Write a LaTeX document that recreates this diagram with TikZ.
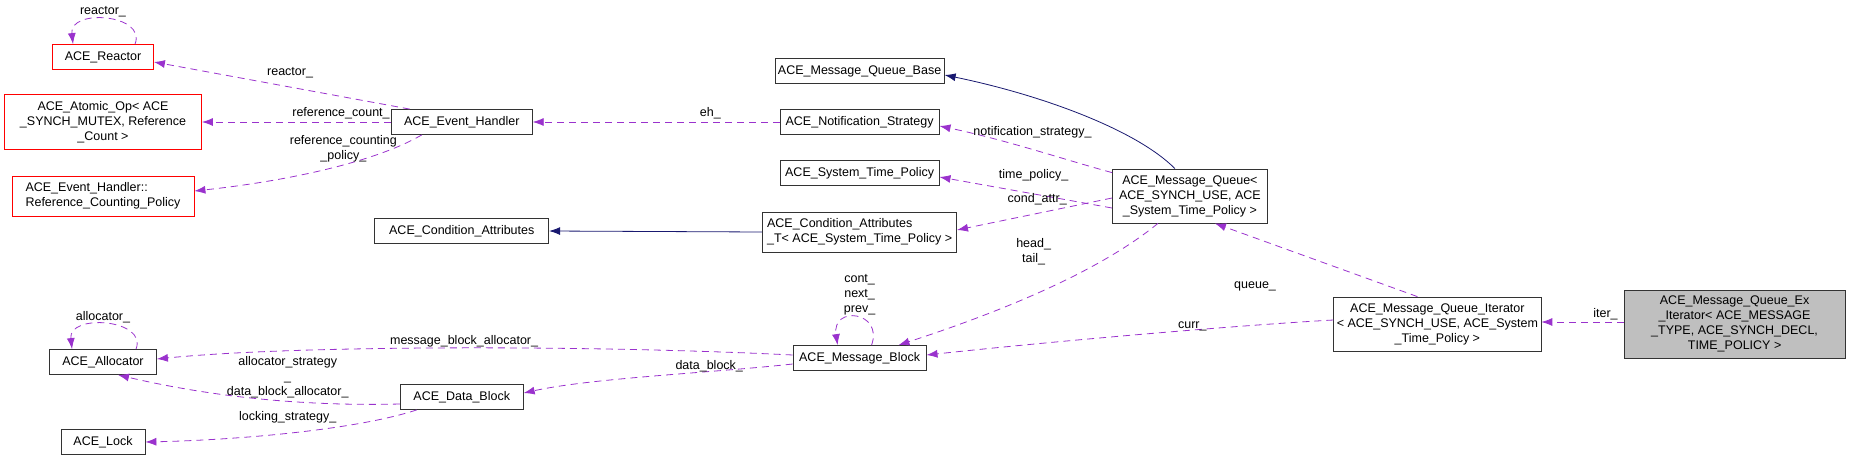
\documentclass[tikz,border=0pt]{standalone}
\usepackage{fontspec}
\setmainfont{Liberation Sans}
\usetikzlibrary{arrows.meta, positioning}

\definecolor{usecol}{HTML}{9A32CD}
\definecolor{inhcol}{HTML}{191970}

\begin{document}
\begin{tikzpicture}[
        x=1.184pt, y=-1pt,
        font=\fontsize{12.5}{15}\selectfont,
        cls/.style={draw=black!80, thick, rectangle, minimum height=25pt, inner sep=3pt, align=center},
        red/.style={cls, draw=red},
        main/.style={cls, fill=black!25},
        member/.style={-{Latex[length=11pt,width=8pt]}, draw=usecol, thick, dash pattern=on 7pt off 5pt},
        inherit/.style={-{Latex[length=11pt,width=8pt]}, draw=inhcol, thick},
        lbl/.style={inner sep=1pt, align=center}
    ]
        \useasboundingbox (0,0) rectangle (1568.4,461);

        % Classes, left column
        \node[red, minimum width=101pt] (reactor) at (87,57) {ACE\_Reactor};
        \node[red, minimum width=197pt, minimum height=55pt] (atomic) at (87,122) {ACE\_Atomic\_Op< ACE\\\_SYNCH\_MUTEX, Reference\\\_Count >};
        \node[red, minimum width=182pt, minimum height=40pt, align=left] (policy) at (87,196) {ACE\_Event\_Handler::\\Reference\_Counting\_Policy};
        \node[cls, minimum width=107pt] (allocator) at (87,362) {ACE\_Allocator};
        \node[cls, minimum width=84pt] (lock) at (87,442) {ACE\_Lock};

        % Second column
        \node[cls, minimum width=141pt] (handler) at (390,122) {ACE\_Event\_Handler};
        \node[cls, minimum width=174pt] (condattr) at (390,231) {ACE\_Condition\_Attributes};
        \node[cls, minimum width=123pt] (datablock) at (390,397) {ACE\_Data\_Block};

        % Third column
        \node[cls, minimum width=169pt] (qbase) at (726,71) {ACE\_Message\_Queue\_Base};
        \node[cls, minimum width=159pt] (notify) at (726,122) {ACE\_Notification\_Strategy};
        \node[cls, minimum width=159pt] (timepolicy) at (726,173) {ACE\_System\_Time\_Policy};
        \node[cls, minimum width=194pt, minimum height=40pt, align=left] (condattrt) at (726,232) {ACE\_Condition\_Attributes\\\_T< ACE\_System\_Time\_Policy >};
        \node[cls, minimum width=133pt] (msgblock) at (726,358) {ACE\_Message\_Block};

        % Right side
        \node[cls, minimum width=155pt, minimum height=54pt] (queue) at (1005,196) {ACE\_Message\_Queue<\\ACE\_SYNCH\_USE, ACE\\\_System\_Time\_Policy >};
        \node[cls, minimum width=199pt, minimum height=54pt] (iterator) at (1214,324) {ACE\_Message\_Queue\_Iterator\\< ACE\_SYNCH\_USE, ACE\_System\\\_Time\_Policy >};
        \node[main, minimum width=221pt, minimum height=68pt] (exiterator) at (1465,324) {ACE\_Message\_Queue\_Ex\\\_Iterator< ACE\_MESSAGE\\\_TYPE, ACE\_SYNCH\_DECL,\\TIME\_POLICY >};

        % Inheritance
        \draw[inherit] ([xshift=-15pt]queue.north) .. controls (960,130) and (880,95) .. ([yshift=-4pt]qbase.east);
        \draw[inherit] (condattrt.west) -- (condattr.east);

        % Members
        \draw[member] ([xshift=32pt]reactor.north) .. controls +(12pt,30pt) and +(-4pt,36pt) .. ([xshift=-30pt]reactor.north);
        \draw[member] ([xshift=-52pt]handler.north) -- ([yshift=-5pt]reactor.east);
        \draw[member] (handler.west) -- (atomic.east);
        \draw[member] ([xshift=-40pt]handler.south) .. controls (320,160) and (250,180) .. ([yshift=5pt]policy.east);
        \draw[member] (notify.west) -- (handler.east);
        \draw[member] ([yshift=-4pt]queue.north west) .. controls (900,160) and (850,140) .. ([yshift=-4pt]notify.east);
        \draw[member] ([yshift=-12pt]queue.west) -- ([yshift=-4pt]timepolicy.east);
        \draw[member] ([yshift=-2pt]queue.west) -- ([yshift=2pt]condattrt.east);
        \draw[member] ([xshift=-32pt]queue.south) .. controls (930,270) and (850,310) .. ([xshift=-28pt]msgblock.north east);
        \draw[member] ([xshift=12pt]msgblock.north) .. controls +(12pt,34pt) and +(-6pt,40pt) .. ([xshift=-22pt]msgblock.north);
        \draw[member] ([yshift=3pt]msgblock.west) .. controls (500,345) and (250,345) .. ([yshift=3pt]allocator.east);
        \draw[member] ([yshift=-6pt]msgblock.west) .. controls (600,373) and (500,378) .. ([yshift=4pt]datablock.east);
        \draw[member] ([yshift=-7pt]datablock.west) .. controls (270,406) and (190,400) .. ([xshift=15pt]allocator.south);
        \draw[member] ([xshift=-45pt]datablock.south) .. controls (300,430) and (200,440) .. (lock.east);
        \draw[member] ([xshift=33pt]allocator.north) .. controls +(12pt,30pt) and +(-4pt,36pt) .. ([xshift=-31pt]allocator.north);
        \draw[member] ([yshift=4pt]iterator.west) .. controls (1050,325) and (900,340) .. ([yshift=3pt]msgblock.east);
        \draw[member] ([xshift=-20pt]iterator.north) -- ([xshift=25pt]queue.south);
        \draw[member] ([yshift=2pt]exiterator.west) -- ([yshift=2pt]iterator.east);

        % Member labels
        \node[lbl] (l-reactor-self) at (87,12) {reactor\_};
        \node[lbl] (l-reactor) at (245,73) {reactor\_};
        \node[lbl] (l-count) at (288,113) {reference\_count\_};
        \node[lbl] (l-policy) at (290,149) {reference\_counting\\\_policy\_};
        \node[lbl] (l-eh) at (600,113) {eh\_};
        \node[lbl] (l-notify) at (872,132) {notification\_strategy\_};
        \node[lbl] (l-time) at (873,175) {time\_policy\_};
        \node[lbl] (l-cond) at (876,199) {cond\_attr\_};
        \node[lbl] (l-headtail) at (873,252) {head\_\\tail\_};
        \node[lbl] (l-links) at (726,295) {cont\_\\next\_\\prev\_};
        \node[lbl] (l-msgalloc) at (392,341) {message\_block\_allocator\_};
        \node[lbl] (l-data) at (599,366) {data\_block\_};
        \node[lbl] (l-dballoc) at (243,377) {allocator\_strategy\\\_\\data\_block\_allocator\_};
        \node[lbl] (l-lock) at (243,417) {locking\_strategy\_};
        \node[lbl] (l-alloc-self) at (87,317) {allocator\_};
        \node[lbl] (l-curr) at (1007,326) {curr\_};
        \node[lbl] (l-queue) at (1060,286) {queue\_};
        \node[lbl] (l-iter) at (1356,314) {iter\_};
    \end{tikzpicture}
\end{document}
